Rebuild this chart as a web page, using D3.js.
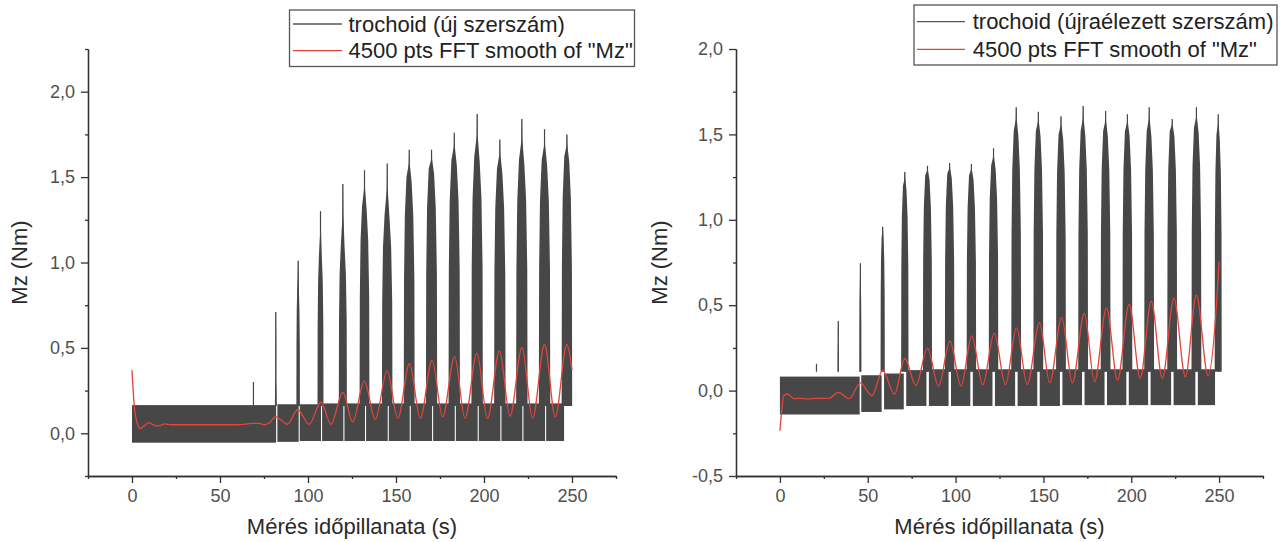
<!DOCTYPE html>
<html><head><meta charset="utf-8">
<script src="https://cdn.jsdelivr.net/npm/d3@7"></script>
<style>body{margin:0;background:#fff} svg{display:block} text{font-family:Arial,"Liberation Sans",sans-serif}</style>
</head><body><svg id="c" width="1285" height="542"></svg>
<script>
// ---------- data (left: new tool) ----------
const leftBurstT     = [69.0, 81.7, 94.4, 107.1, 119.8, 132.1, 145.0, 157.5, 170.2, 183.1, 196.1, 209.0, 221.5, 234.4, 247.1];
const leftBurstPeak  = [0.30, 0.71, 1.01, 1.30, 1.46, 1.54, 1.58, 1.66, 1.66, 1.76, 1.87, 1.72, 1.84, 1.78, 1.75];
const leftBurstBody  = [0.17, 0.32, 0.85, 1.05, 1.10, 1.33, 1.28, 1.50, 1.55, 1.60, 1.62, 1.55, 1.60, 1.60, 1.62];
const leftBurstWidth = [0.3, 1.0, 2.0, 3.4, 4.6, 5.6, 6.0, 6.2, 6.4, 6.5, 6.5, 6.5, 6.5, 6.5, 6.0];
const leftBandStart  = [0, 82.6, 95.3, 108.0, 120.7, 133.0, 145.9, 158.4, 171.1, 184.0, 197.0, 209.9, 222.4, 235.3];
const leftBandEnd    = [81.9, 94.7, 107.4, 120.1, 132.4, 145.3, 157.8, 170.5, 183.4, 196.4, 209.3, 221.8, 234.7, 245.5];
const leftBandLow    = [-0.055, -0.05, -0.045, -0.045, -0.045, -0.045, -0.045, -0.045, -0.045, -0.045, -0.045, -0.045, -0.045, -0.045];
const leftBandHigh   = [0.165, 0.17, 0.17, 0.175, 0.175, 0.175, 0.175, 0.175, 0.175, 0.175, 0.175, 0.175, 0.175, 0.175];
const leftSmoothT = [0,1.7,4.8,7,9.6,12,14.4,17,19,22,30,40,50,60,64,68,72,75.5,78,81.5,85,88.2,94.2,100.7,107.4,113,119.8,125.4,132,138.2,145,151,157.7,163.8,170.5,176.5,183.3,189.2,196,202,208.8,214.8,221.6,227.6,234.4,240.5,247.1,250];
const leftSmoothV = [0.37,0.12,0.028,0.045,0.062,0.05,0.042,0.05,0.055,0.05,0.05,0.05,0.05,0.05,0.053,0.058,0.058,0.05,0.06,0.097,0.075,0.053,0.138,0.053,0.183,0.053,0.24,0.067,0.307,0.081,0.367,0.087,0.408,0.087,0.428,0.097,0.449,0.087,0.469,0.087,0.483,0.1,0.503,0.087,0.52,0.097,0.52,0.37];

// ---------- data (right: resharpened tool) ----------
const rightBurstT     = [20.8, 33.2, 45.8, 58.5, 71.1, 84.0, 96.6, 109.0, 121.6, 134.5, 147.1, 160.0, 172.6, 185.4, 197.8, 210.2, 223.3, 237.1, 249.5];
const rightBurstPeak  = [0.157, 0.408, 0.745, 0.959, 1.28, 1.316, 1.333, 1.327, 1.418, 1.659, 1.633, 1.606, 1.667, 1.637, 1.618, 1.659, 1.59, 1.659, 1.618];
const rightBurstBody  = [0.09, 0.30, 0.62, 0.90, 1.20, 1.26, 1.27, 1.26, 1.32, 1.52, 1.52, 1.50, 1.52, 1.52, 1.52, 1.52, 1.52, 1.54, 1.50];
const rightBurstWidth = [0.3, 0.7, 1.2, 2.4, 4.2, 5.2, 5.4, 5.4, 5.4, 5.6, 5.6, 5.6, 5.6, 5.6, 5.6, 5.6, 5.6, 5.6, 4.0];
const rightBandStart  = [0, 46.3, 59.3, 71.9, 84.8, 97.4, 109.8, 122.4, 135.3, 147.9, 160.8, 173.4, 186.2, 198.6, 211.0, 224.1, 237.9];
const rightBandEnd    = [45.4, 57.9, 70.5, 83.4, 96.0, 108.4, 121.0, 133.9, 146.5, 159.4, 172.0, 184.8, 197.2, 209.6, 222.7, 236.5, 247.7];
const rightBandLow    = [-0.14, -0.125, -0.11, -0.09, -0.09, -0.09, -0.09, -0.09, -0.09, -0.09, -0.085, -0.085, -0.085, -0.085, -0.085, -0.085, -0.085];
const rightBandHigh   = [0.082, 0.09, 0.10, 0.12, 0.125, 0.125, 0.125, 0.125, 0.125, 0.125, 0.125, 0.125, 0.125, 0.125, 0.125, 0.125, 0.125];
const rightSmoothT = [0,1,2.1,4.4,8,12,16,20,24,28,33.2,39.5,45.8,52.4,58.5,65.2,71.1,77.4,84,90.3,96.8,103.1,109.2,115.5,122,128.4,134.7,140.8,147.8,153.6,160.4,166.5,173.3,179.1,185.9,192.2,198.8,205.1,211.4,217.7,224.3,230.8,237.1,243.7,248.5,250];
const rightSmoothV = [-0.235,-0.12,-0.03,-0.02,-0.047,-0.045,-0.05,-0.045,-0.045,-0.045,-0.01,-0.047,0.045,-0.03,0.118,-0.02,0.188,0.03,0.249,0.027,0.29,0.027,0.32,0.035,0.337,0.035,0.367,0.035,0.398,0.045,0.429,0.045,0.453,0.051,0.484,0.061,0.506,0.071,0.524,0.071,0.541,0.082,0.561,0.086,0.5,0.755];

const xMajor = [0, 50, 100, 150, 200, 250];
const xMinor = [-25, 25, 75, 125, 175, 225, 275];
const leftYMajor  = [0, 0.5, 1.0, 1.5, 2.0];
const leftYMinor  = [-0.25, 0.25, 0.75, 1.25, 1.75, 2.25];
const rightYMajor = [-0.5, 0, 0.5, 1.0, 1.5, 2.0];
const rightYMinor = [-0.25, 0.25, 0.75, 1.25, 1.75];

const xTitle = "Mérés időpillanata (s)";
const yTitle = "Mz (Nm)";
const leftLegend  = ["trochoid (új szerszám)", "4500 pts FFT smooth of \"Mz\""];
const rightLegend = ["trochoid (újraélezett szerszám)", "4500 pts FFT smooth of \"Mz\""];

// ---------- drawing ----------
const svg = d3.select("#c");
const TRACE = "#474747", RED = "#e2453c", AXIS = "#333";
const fmt = d => d.toFixed(1).replace(".", ",");

function panel(cfg) {
  const x = d3.scaleLinear().domain([-25, 275]).range([cfg.x0, cfg.x1]);
  const y = d3.scaleLinear().domain(cfg.yDomain).range([cfg.y1, cfg.y0]);
  const g = svg.append("g");

  // blocks of dense oscillation between bursts
  g.selectAll(".band").data(cfg.bandStart).join("rect")
    .attr("x", (d) => x(d))
    .attr("width", (d, i) => x(cfg.bandEnd[i]) - x(d))
    .attr("y", (d, i) => y(cfg.bandHigh[i]))
    .attr("height", (d, i) => y(cfg.bandLow[i]) - y(cfg.bandHigh[i]))
    .attr("fill", TRACE);

  // bursts (cutting passes)
  const line = d3.line().x(d => x(d[0])).y(d => y(d[1]));
  cfg.burstT.forEach((t, i) => {
    const pk = cfg.burstPeak[i], body = cfg.burstBody[i], w = cfg.burstWidth[i] / 2;
    const base = cfg.baseLevel;
    if (body > base + 0.05) {
      const pts = [[t - w, base], [t - w * 0.95, body * 0.6], [t - w * 0.8, body * 0.85], [t - w * 0.5, body],
                   [t - 0.2, (body + pk) / 2], [t - 0.08, pk], [t + 0.12, pk], [t + 0.3, (body + pk) / 2],
                   [t + w * 0.45, body * 0.98], [t + w * 0.75, body * 0.85], [t + w * 0.95, body * 0.6], [t + w, base]];
      g.append("path").datum(pts).attr("d", line).attr("fill", TRACE);
    }
    g.append("line").attr("x1", x(t)).attr("x2", x(t))
      .attr("y1", y(base)).attr("y2", y(pk))
      .attr("stroke", TRACE).attr("stroke-width", 1.2);
  });

  // FFT smooth
  const sm = cfg.smT.map((t, i) => [t, cfg.smV[i]]);
  g.append("path").datum(sm)
    .attr("d", d3.line().x(d => x(d[0])).y(d => y(d[1])).curve(d3.curveMonotoneX))
    .attr("fill", "none").attr("stroke", RED).attr("stroke-width", 1.3);

  // axes
  g.append("g").attr("transform", `translate(0,${cfg.y1})`)
    .call(d3.axisBottom(x).tickValues(xMajor).tickSize(7).tickSizeOuter(0).tickPadding(6).tickFormat(d3.format("d")));
  g.append("g").attr("transform", `translate(0,${cfg.y1})`)
    .call(d3.axisBottom(x).tickValues(xMinor).tickSize(3).tickSizeOuter(0).tickFormat(""));
  g.append("g").attr("transform", `translate(${cfg.x0},0)`)
    .call(d3.axisLeft(y).tickValues(cfg.yMajor).tickSize(7).tickSizeOuter(0).tickPadding(6).tickFormat(fmt));
  g.append("g").attr("transform", `translate(${cfg.x0},0)`)
    .call(d3.axisLeft(y).tickValues(cfg.yMinor).tickSize(3).tickSizeOuter(0).tickFormat(""));
  g.selectAll(".domain, .tick line").attr("stroke", AXIS).attr("stroke-width", 1.3);
  g.selectAll(".tick text").attr("fill", "#505050").attr("font-size", 18).attr("font-family", "Arial, 'Liberation Sans', sans-serif");

  // titles
  g.append("text").attr("x", (cfg.x0 + cfg.x1) / 2).attr("y", 534).attr("text-anchor", "middle")
    .attr("font-size", 22).attr("fill", "#2a2a2a").text(xTitle);
  g.append("text").attr("transform", `translate(${cfg.yTitleX},${(cfg.y0 + cfg.y1) / 2}) rotate(-90)`)
    .attr("text-anchor", "middle").attr("font-size", 22).attr("fill", "#2a2a2a").text(yTitle);

  // legend
  const L = cfg.legend;
  g.append("rect").attr("x", L.x).attr("y", L.y).attr("width", L.w).attr("height", L.h)
    .attr("fill", "#fff").attr("stroke", "#555").attr("stroke-width", 1.3);
  cfg.legendText.forEach((s, i) => {
    const ry = L.rows[i];
    g.append("line").attr("x1", L.lx0).attr("x2", L.lx1).attr("y1", ry).attr("y2", ry)
      .attr("stroke", i === 0 ? "#555" : RED).attr("stroke-width", 1.3);
    g.append("text").attr("x", L.tx).attr("y", ry).attr("dy", "0.35em")
      .attr("font-size", 22).attr("fill", "#222").text(s);
  });
}

panel({x0: 88, x1: 616, y0: 49, y1: 476, yDomain: [-0.25, 2.25], yMajor: leftYMajor, yMinor: leftYMinor,
  bandStart: leftBandStart, bandEnd: leftBandEnd, bandLow: leftBandLow, bandHigh: leftBandHigh, baseLevel: 0.16,
  burstT: leftBurstT, burstPeak: leftBurstPeak, burstBody: leftBurstBody, burstWidth: leftBurstWidth,
  smT: leftSmoothT, smV: leftSmoothV, yTitleX: 27,
  legend: {x: 289.5, y: 10, w: 345, h: 56.5, rows: [24, 50.7], lx0: 293, lx1: 342, tx: 348.5},
  legendText: leftLegend});

panel({x0: 736, x1: 1263, y0: 49, y1: 476, yDomain: [-0.5, 2.0], yMajor: rightYMajor, yMinor: rightYMinor,
  bandStart: rightBandStart, bandEnd: rightBandEnd, bandLow: rightBandLow, bandHigh: rightBandHigh, baseLevel: 0.11,
  burstT: rightBurstT, burstPeak: rightBurstPeak, burstBody: rightBurstBody, burstWidth: rightBurstWidth,
  smT: rightSmoothT, smV: rightSmoothV, yTitleX: 667,
  legend: {x: 914, y: 5, w: 363, h: 60, rows: [21.7, 49.3], lx0: 917, lx1: 965, tx: 972.7},
  legendText: rightLegend});
</script></body></html>
